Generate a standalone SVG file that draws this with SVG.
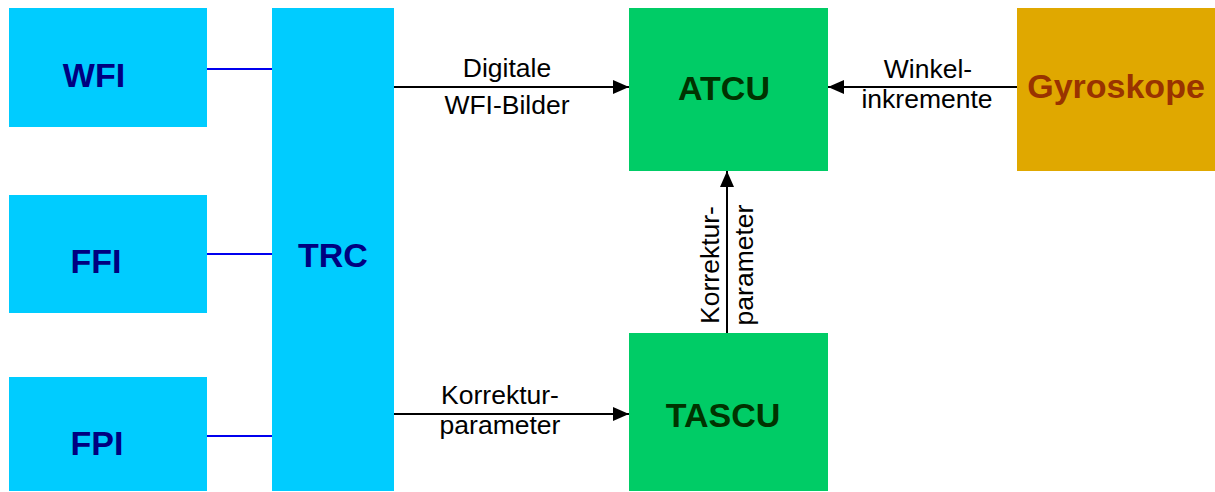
<svg xmlns="http://www.w3.org/2000/svg" width="1215" height="492" viewBox="0 0 1215 492">
<style>
.cyan{fill:#00CCFF}
.green{fill:#00CC66}
.gold{fill:#E0A800}
.lbl{font-family:"Liberation Sans",Arial,sans-serif;font-weight:bold;font-size:34px;text-anchor:middle}
.blue{fill:#000080}
.dkg{fill:#003300}
.brn{fill:#993300}
.el{font-family:"Liberation Sans",Arial,sans-serif;font-size:26.5px;text-anchor:middle;fill:#000}
.bl{stroke:#0000EE;stroke-width:2;fill:none}
.ar{stroke:#000;stroke-width:2;fill:none;marker-end:url(#ah)}
</style>
<defs>
<marker id="ah" viewBox="0 0 16 14" refX="16" refY="7" markerWidth="16" markerHeight="14" markerUnits="userSpaceOnUse" orient="auto">
<path d="M0,0 L16,7 L0,14 Z" fill="#000"/>
</marker>
</defs>
<rect width="1215" height="492" fill="#fff"/>
<g id="connectors">
<line class="bl" x1="207" y1="69" x2="272" y2="69"/>
<line class="bl" x1="207" y1="254" x2="272" y2="254"/>
<line class="bl" x1="207" y1="436" x2="272" y2="436"/>
<line class="ar" x1="394" y1="87" x2="629" y2="87"/>
<line class="ar" x1="1017" y1="87" x2="828" y2="87"/>
<line class="ar" x1="394" y1="414" x2="629" y2="414"/>
<line class="ar" x1="727" y1="333" x2="727" y2="171"/>
<text class="el" x="507" y="77">Digitale</text>
<text class="el" x="507" y="114">WFI-Bilder</text>
<text class="el" x="928" y="78">Winkel-</text>
<text class="el" x="927" y="108">inkremente</text>
<text class="el" x="500" y="404">Korrektur-</text>
<text class="el" x="500" y="434">parameter</text>
<text class="el" transform="translate(719,265) rotate(-90)">Korrektur-</text>
<text class="el" transform="translate(753,265) rotate(-90)">parameter</text>
</g>
<g id="WFI"><rect class="cyan" x="9" y="8" width="198" height="119"/><text class="lbl blue" x="94" y="87">WFI</text></g>
<g id="FFI"><rect class="cyan" x="9" y="195" width="198" height="118"/><text class="lbl blue" x="96" y="273">FFI</text></g>
<g id="FPI"><rect class="cyan" x="9" y="377" width="198" height="114"/><text class="lbl blue" x="97" y="455">FPI</text></g>
<g id="TRC"><rect class="cyan" x="272" y="8" width="122" height="483"/><text class="lbl blue" x="333" y="267">TRC</text></g>
<g id="ATCU"><rect class="green" x="629" y="8" width="199" height="163"/><text class="lbl dkg" x="724" y="100">ATCU</text></g>
<g id="TASCU"><rect class="green" x="629" y="333" width="199" height="158"/><text class="lbl dkg" x="723" y="427">TASCU</text></g>
<g id="Gyroskope"><rect class="gold" x="1017" y="8" width="198" height="163"/><text class="lbl brn" x="1116" y="98">Gyroskope</text></g>
</svg>
